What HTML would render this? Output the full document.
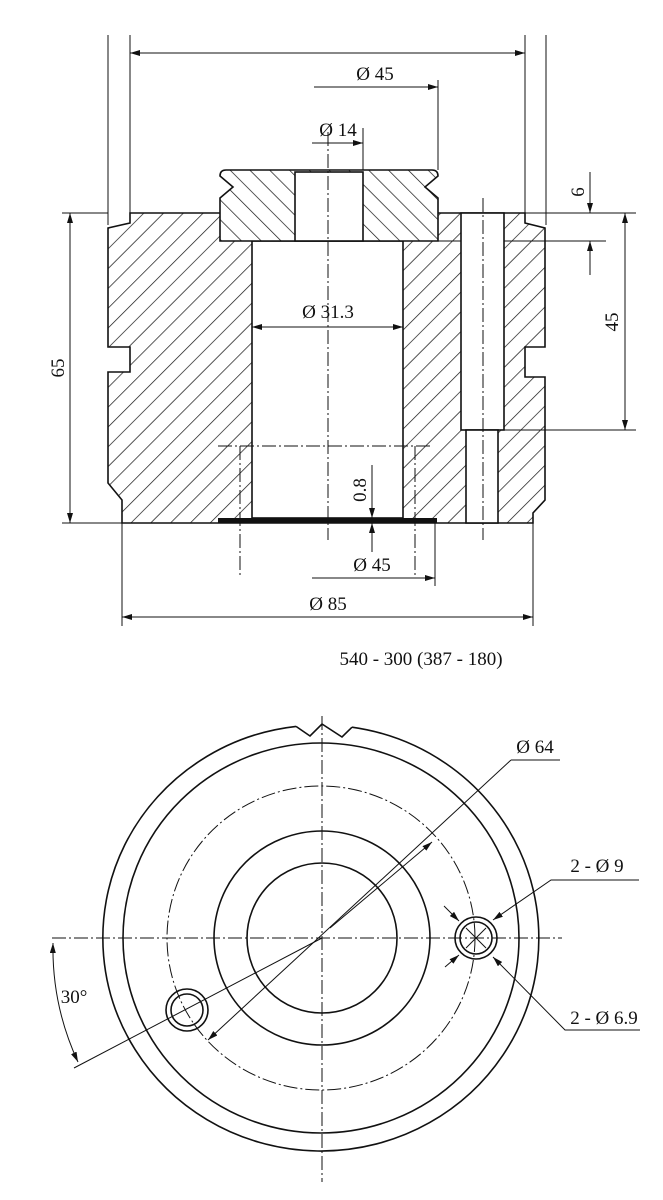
<!DOCTYPE html>
<html><head><meta charset="utf-8"><style>
html,body{margin:0;padding:0;background:#fff}
svg{display:block}
text{font-family:"Liberation Serif",serif;font-size:19px;fill:#111}
</style></head><body>
<svg width="663" height="1200" viewBox="0 0 663 1200" xmlns="http://www.w3.org/2000/svg">
<defs>
<pattern id="h1" width="14" height="14" patternUnits="userSpaceOnUse" patternTransform="rotate(45)"><line x1="0" y1="0" x2="0" y2="14" stroke="#111" stroke-width="1.4"/></pattern>
<pattern id="h2" width="14" height="14" patternUnits="userSpaceOnUse" patternTransform="rotate(-45)"><line x1="0" y1="0" x2="0" y2="14" stroke="#111" stroke-width="1.4"/></pattern>
<marker id="a" viewBox="0 0 10 6" refX="10" refY="3" markerWidth="10" markerHeight="6" markerUnits="userSpaceOnUse" orient="auto-start-reverse"><path d="M0,0 L10,3 L0,6 Z" fill="#111"/></marker>
</defs>
<g fill="none" stroke="#111" stroke-width="1">
<line x1="108" y1="35" x2="108" y2="225"/><line x1="130" y1="35" x2="130" y2="213"/>
<line x1="525" y1="35" x2="525" y2="213"/><line x1="546" y1="35" x2="546" y2="225"/>
<line x1="130" y1="53" x2="525" y2="53" marker-start="url(#a)" marker-end="url(#a)"/>
<line x1="438" y1="80" x2="438" y2="170"/><line x1="314" y1="87" x2="438" y2="87" marker-end="url(#a)"/>
<line x1="363" y1="128" x2="363" y2="170"/><line x1="312" y1="143" x2="363" y2="143" marker-end="url(#a)"/>
<line x1="62" y1="213" x2="108" y2="213"/><line x1="62" y1="523" x2="122" y2="523"/>
<line x1="70" y1="213" x2="70" y2="523" marker-start="url(#a)" marker-end="url(#a)"/>
<line x1="525" y1="213" x2="636" y2="213"/><line x1="438" y1="241" x2="606" y2="241"/>
<line x1="590" y1="172" x2="590" y2="213" marker-end="url(#a)"/>
<line x1="590" y1="275" x2="590" y2="241" marker-end="url(#a)"/>
<line x1="504" y1="430" x2="636" y2="430"/>
<line x1="625" y1="213" x2="625" y2="430" marker-start="url(#a)" marker-end="url(#a)"/>
</g>
<path d="M130,213 L525,213 L525,223 L545,228 L545,347 L525,347 L525,377 L545,377 L545,500 L533,513 L533,523 L122,523 L122,500 L108,483 L108,372 L130,372 L130,347 L108,347 L108,228 L130,223 Z" fill="url(#h1)" stroke="#111" stroke-width="1.6"/>
<rect x="252" y="241" width="151" height="277" fill="#fff" stroke="#111" stroke-width="1.6"/>
<rect x="461" y="213" width="43" height="217" fill="#fff" stroke="#111" stroke-width="1.6"/>
<rect x="466" y="430" width="32" height="93" fill="#fff" stroke="#111" stroke-width="1.6"/>
<path d="M226,170 L432,170 Q438,170 438,176 L425,187 L438,198 L438,241 L220,241 L220,198 L233,187 L220,176 Q220,170 226,170 Z" fill="#fff" stroke="none"/>
<path d="M226,170 L432,170 Q438,170 438,176 L425,187 L438,198 L438,241 L220,241 L220,198 L233,187 L220,176 Q220,170 226,170 Z" fill="url(#h2)" stroke="#111" stroke-width="1.6"/>
<rect x="295" y="172" width="68" height="69" fill="#fff" stroke="#111" stroke-width="1.6"/>
<rect x="218" y="518" width="219" height="5" fill="#111"/>
<g fill="none" stroke="#111" stroke-width="1" stroke-dasharray="14,3,2,3">
<line x1="328" y1="132" x2="328" y2="540"/>
<line x1="483" y1="198" x2="483" y2="540"/>
<line x1="218" y1="446" x2="432" y2="446"/>
<line x1="240" y1="446" x2="240" y2="576"/>
<line x1="415" y1="446" x2="415" y2="576"/>
</g>
<g fill="none" stroke="#111" stroke-width="1">
<line x1="252" y1="327" x2="403" y2="327" marker-start="url(#a)" marker-end="url(#a)"/>
<line x1="372" y1="465" x2="372" y2="518" marker-end="url(#a)"/>
<line x1="372" y1="552" x2="372" y2="523" marker-end="url(#a)"/>
<line x1="435" y1="523" x2="435" y2="586"/>
<line x1="312" y1="578" x2="435" y2="578" marker-end="url(#a)"/>
<line x1="122" y1="523" x2="122" y2="626"/><line x1="533" y1="523" x2="533" y2="626"/>
<line x1="122" y1="617" x2="533" y2="617" marker-start="url(#a)" marker-end="url(#a)"/>
</g>
<text x="375" y="80" text-anchor="middle">Ø 45</text>
<text x="338" y="136" text-anchor="middle">Ø 14</text>
<text x="328" y="318" text-anchor="middle">Ø 31.3</text>
<text x="372" y="571" text-anchor="middle">Ø 45</text>
<text x="328" y="610" text-anchor="middle">Ø 85</text>
<text transform="translate(64,368) rotate(-90)" text-anchor="middle">65</text>
<text transform="translate(584,192) rotate(-90)" text-anchor="middle">6</text>
<text transform="translate(618,322) rotate(-90)" text-anchor="middle">45</text>
<text transform="translate(366,490) rotate(-90)" text-anchor="middle">0.8</text>
<text x="421" y="665" text-anchor="middle">540 - 300 (387 - 180)</text>

<g fill="none" stroke="#111" stroke-width="1.6">
<path d="M296,726.4 A218,213 0 1 0 352,727.2"/>
<path d="M296,726.4 L310,736 L322,724 L342,737 L352,727.2"/>
<ellipse cx="321" cy="938" rx="198" ry="195"/>
<ellipse cx="322" cy="938" rx="108" ry="107"/>
<ellipse cx="322" cy="938" rx="75" ry="75"/>
<circle cx="476" cy="938" r="21"/><circle cx="476" cy="938" r="16"/>
<circle cx="187" cy="1010" r="21"/><circle cx="187" cy="1010" r="16"/>
</g>
<g fill="none" stroke="#111" stroke-width="1" stroke-dasharray="14,3,2,3">
<ellipse cx="321" cy="938" rx="154" ry="152"/>
<line x1="52" y1="938" x2="562" y2="938"/>
<line x1="322" y1="716" x2="322" y2="1182"/>
</g>
<g fill="none" stroke="#111" stroke-width="1">
<line x1="74" y1="1068" x2="322" y2="938"/>
<line x1="466" y1="928" x2="486" y2="948"/><line x1="466" y1="948" x2="486" y2="928"/>
<line x1="511" y1="760" x2="208" y2="1040" marker-end="url(#a)"/>
<path d="M511,760 L560,760"/>
<line x1="330" y1="928" x2="432" y2="842" marker-end="url(#a)"/>
<path d="M639,880 L551,880 L493,920" marker-end="url(#a)"/>
<path d="M640,1030 L565,1030 L493,957" marker-end="url(#a)"/>
<line x1="444" y1="906" x2="459" y2="921" marker-end="url(#a)"/>
<line x1="445" y1="967" x2="459" y2="955" marker-end="url(#a)"/>
<path d="M53,943 A270,270 0 0 0 78,1062" marker-start="url(#a)" marker-end="url(#a)"/>
</g>
<text x="535" y="753" text-anchor="middle">Ø 64</text>
<text x="597" y="872" text-anchor="middle">2 - Ø 9</text>
<text x="604" y="1024" text-anchor="middle">2 - Ø 6.9</text>
<text x="74" y="1003" text-anchor="middle">30°</text>
</svg>
</body></html>
